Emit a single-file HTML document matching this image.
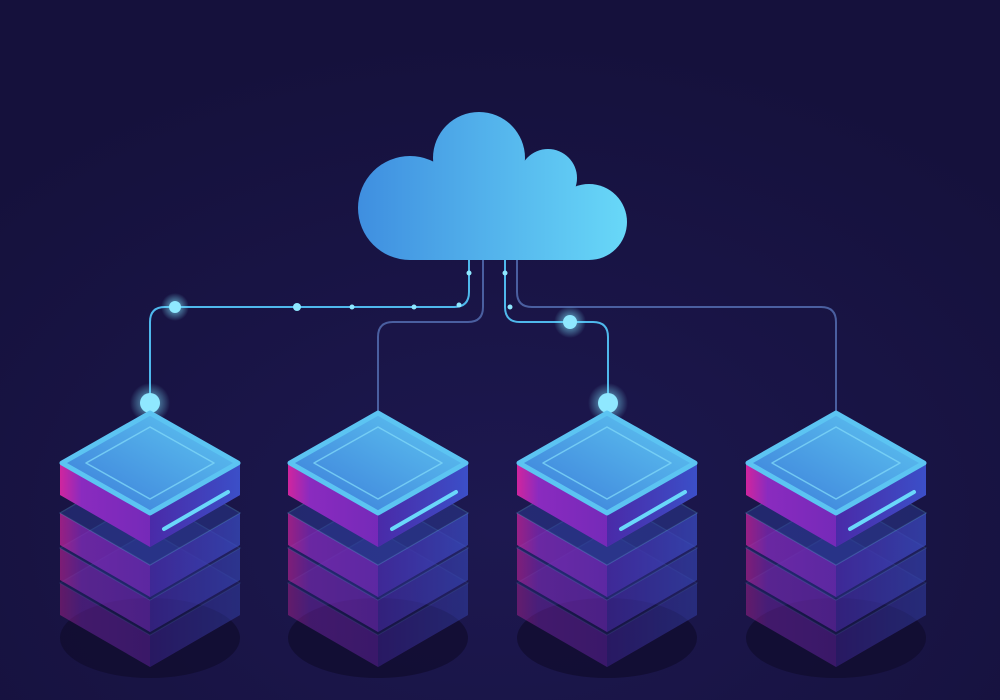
<!DOCTYPE html>
<html><head><style>
html,body{margin:0;padding:0;background:#16123e;}
svg{display:block;}
</style></head><body>
<svg width="1000" height="700" viewBox="0 0 1000 700" xmlns="http://www.w3.org/2000/svg">
<defs>
<radialGradient id="bg" cx="50%" cy="75%" r="70%">
<stop offset="0" stop-color="#1d1850"/><stop offset="1" stop-color="#15113c"/>
</radialGradient>
<linearGradient id="cloud" x1="360" y1="0" x2="627" y2="0" gradientUnits="userSpaceOnUse">
<stop offset="0" stop-color="#3f8fe0"/><stop offset="1" stop-color="#68d8f8"/>
</linearGradient>
<linearGradient id="top" x1="0" y1="1" x2="1" y2="0">
<stop offset="0" stop-color="#3a7ad8"/><stop offset="1" stop-color="#5fc8f2"/>
</linearGradient>
<linearGradient id="left" x1="0" y1="0" x2="1" y2="0">
<stop offset="0" stop-color="#d0259e"/><stop offset="0.12" stop-color="#8a2bbf"/><stop offset="1" stop-color="#5a27b0"/>
</linearGradient>
<linearGradient id="right" x1="0" y1="0" x2="1" y2="0">
<stop offset="0" stop-color="#4a2aa8"/><stop offset="1" stop-color="#3b4fc8"/>
</linearGradient>
<radialGradient id="glow"><stop offset="0" stop-color="#7fe6ff" stop-opacity="0.8"/><stop offset="1" stop-color="#7fe6ff" stop-opacity="0"/></radialGradient>
<g id="layer">
<path d="M-90,0 L0,52 L90,0 L90,32 L0,84 L-90,32 Z" fill="url(#left)"/>
<path d="M0,52 L90,0 L90,32 L0,84 Z" fill="url(#right)"/>
</g>
<g id="srv">
<ellipse cx="0" cy="175" rx="90" ry="40" fill="#0f0c2c" opacity="0.7"/>
<g opacity="0.4"><use href="#layer" y="120"/><path d="M-90,120 L0,68 L90,120 L0,172 Z" fill="#3a4fc0" opacity="0.35" stroke="#5fb0f0" stroke-width="1.2"/></g>
<g opacity="0.55"><use href="#layer" y="85"/><path d="M-90,85 L0,33 L90,85 L0,137 Z" fill="#3a4fc0" opacity="0.35" stroke="#5fb8f2" stroke-width="1.2"/></g>
<g opacity="0.7"><use href="#layer" y="50"/><path d="M-90,50 L0,-2 L90,50 L0,102 Z" fill="#3a5ad0" opacity="0.4" stroke="#62c0f4" stroke-width="1.2"/></g>
<use href="#layer" y="0"/>
<path d="M-88,0 L0,-50 L88,0 L0,50 Z" fill="url(#top)" stroke="#5cc4f2" stroke-width="5" stroke-linejoin="round"/>
<path d="M-64,0 L0,-36 L64,0 L0,36 Z" fill="none" stroke="#7dd6f8" stroke-width="1.5" stroke-linejoin="round" opacity="0.8"/>
<path d="M14,66 L78,29" stroke="#6ad8fa" stroke-width="4" stroke-linecap="round"/>
</g>
</defs>
<rect width="1000" height="700" fill="url(#bg)"/>
<g fill="none" stroke-width="2">
<path d="M469,258 V292 Q469,307 454,307 H165 Q150,307 150,322 V402" stroke="#4fb8ec"/>
<path d="M483,258 V307 Q483,322 468,322 H393 Q378,322 378,337 V412" stroke="#4a5fa0"/>
<path d="M505,258 V307 Q505,322 520,322 H593 Q608,322 608,337 V402" stroke="#4fb8ec"/>
<path d="M517,258 V292 Q517,307 532,307 H821 Q836,307 836,322 V412" stroke="#4a5fa0"/>
</g>
<g fill="#8fe8ff">
<circle cx="175" cy="307" r="14" fill="url(#glow)"/><circle cx="175" cy="307" r="6"/>
<circle cx="297" cy="307" r="4"/><circle cx="352" cy="307" r="2.5"/><circle cx="414" cy="307" r="2.5"/><circle cx="459" cy="305" r="2.5"/>
<circle cx="469" cy="273" r="2.5"/><circle cx="505" cy="273" r="2.5"/><circle cx="510" cy="307" r="2.5"/>
<circle cx="570" cy="322" r="16" fill="url(#glow)"/><circle cx="570" cy="322" r="7"/>
<circle cx="150" cy="403" r="20" fill="url(#glow)"/><circle cx="150" cy="403" r="10"/>
<circle cx="608" cy="403" r="20" fill="url(#glow)"/><circle cx="608" cy="403" r="10"/>
</g>
<g fill="url(#cloud)">
<circle cx="410" cy="208" r="52"/>
<circle cx="479" cy="158" r="46"/>
<circle cx="548" cy="178" r="29"/>
<circle cx="589" cy="222" r="38"/>
<rect x="410" y="192" width="179" height="68"/>
<rect x="440" y="170" width="120" height="30"/>
</g>
<use href="#srv" x="150" y="463"/>
<use href="#srv" x="378" y="463"/>
<use href="#srv" x="607" y="463"/>
<use href="#srv" x="836" y="463"/>
</svg>
</body></html>
